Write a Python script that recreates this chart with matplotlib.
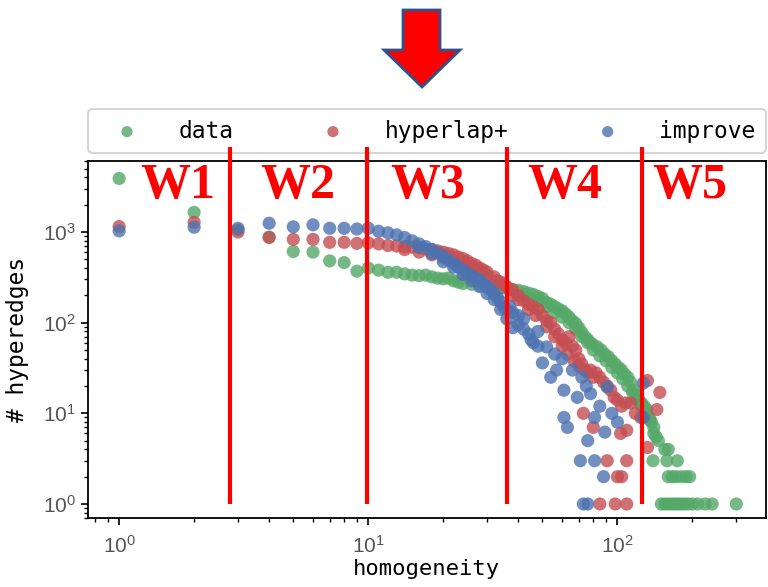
import matplotlib
matplotlib.use('Agg')
import matplotlib.pyplot as plt
from matplotlib.patches import Polygon

plt.rcParams['mathtext.fontset'] = 'custom'
plt.rcParams['mathtext.rm'] = 'Liberation Sans'
plt.rcParams['mathtext.it'] = 'Liberation Sans:italic'

# ---- data ----
data_x = [1, 2, 3, 4, 5, 6, 7, 8, 9, 10, 11, 12, 13, 14, 15, 16, 17, 18, 19, 20,
          21, 22, 23, 24, 26, 28, 30, 32, 34, 36, 38, 40, 42, 44, 46, 48, 50, 52,
          54, 56, 58, 60, 62, 64, 66, 68, 70, 72, 74, 76, 78, 80, 83, 86, 89, 92,
          95, 98, 101, 104, 107, 110, 113, 116, 119, 122, 125, 128, 131, 134, 137,
          140, 143, 146,
          44, 48, 52, 56, 60, 64, 68, 72, 76, 80, 85, 90, 95, 100, 105, 110, 115,
          120, 125, 130, 135, 140,
          139, 158, 174, 155, 160, 160, 166, 172, 180, 188, 195,
          150, 155, 160, 165, 170, 175, 180, 186, 192, 200, 210, 225, 240, 300]
data_y = [3900, 1650, 1050, 880, 610, 600, 480, 460, 370, 400, 380, 360, 360, 345,
          335, 330, 335, 320, 310, 305, 310, 290, 280, 270, 265, 258, 250, 245, 240,
          238, 232, 228, 220, 212, 205, 195, 185, 167, 160, 150, 142, 135, 125, 115,
          105, 98, 88, 78, 70, 65, 60, 57, 54, 50, 45, 42, 38, 35, 32, 30, 27, 25,
          22, 18, 16, 14, 13, 12, 11, 9, 8, 6, 5.5, 5,
          190, 175, 150, 130, 115, 100, 85, 70, 60, 50, 43, 38, 32, 28, 24, 20, 17,
          14, 12, 10, 8.5, 7,
          3, 3, 3, 4, 4, 2, 2, 2, 2, 2, 2,
          1, 1, 1, 1, 1, 1, 1, 1, 1, 1, 1, 1, 1, 1]

hyperlap_x = [1, 2, 3, 4, 5, 6, 7, 8, 9, 10, 11, 12, 13, 14, 15, 16, 17, 18, 19, 20,
              21, 22, 23, 24, 25, 26, 27, 28, 29, 30, 32, 34, 36, 38, 40, 42, 44, 46,
              48, 50, 52, 54, 56, 58, 60, 62, 64, 66, 68, 70, 72, 74, 76, 78, 80, 82,
              85, 88, 91, 94, 97, 100, 104, 108, 113, 118, 124,
              14, 16, 18, 20, 22, 24, 26, 28, 30, 33, 35, 38, 40, 44, 47, 52, 56, 60,
              63, 67, 70,
              73, 80, 103, 109, 132, 132, 144, 148, 91, 109, 100, 104, 85, 98, 109]
hyperlap_y = [1150, 1280, 1000, 870, 830, 830, 770, 770, 750, 760, 740, 710, 700, 690,
              680, 670, 650, 640, 620, 600, 580, 560, 530, 510, 480, 450, 430, 400, 380,
              360, 320, 280, 250, 230, 200, 175, 160, 150, 140, 120, 105, 100, 85, 75,
              65, 60, 70, 55, 50, 40, 35, 30, 28, 30, 25, 28, 25, 22, 20, 18, 15, 14,
              12, 13, 13, 10, 9,
              640, 600, 560, 520, 480, 440, 400, 370, 330, 290, 260, 200, 180, 140, 120,
              90, 70, 55, 45, 38, 33,
              10, 7, 6, 6.5, 4.2, 23, 11, 17, 3, 3, 2, 2, 1, 1, 1]

improve_x = [1, 2, 3, 4, 5, 6, 7, 8, 9, 10, 11, 12, 13, 14, 15, 16, 17, 18, 19, 20,
             21, 22, 23, 24, 25, 26, 27, 28, 29, 30, 31, 32, 33, 34, 35, 36, 37, 38,
             40, 42, 45, 48, 50, 52, 54, 56, 57, 60, 61, 61, 63, 66, 69, 72, 75, 76,
             78, 81, 85, 89, 91, 95, 100, 127, 127,
             16, 18, 20, 22, 24, 26, 28, 30, 32, 34, 36, 38, 40, 42, 44, 46, 48,
             71, 81, 88, 73, 76]
improve_y = [1030, 1130, 1100, 1250, 1140, 1200, 1100, 1100, 1080, 1100, 1020, 980,
             930, 870, 800, 740, 690, 640, 590, 540, 490, 450, 410, 380, 350, 330, 310,
             295, 270, 250, 230, 210, 190, 170, 150, 140, 150, 88, 120, 110, 65, 80, 36,
             54, 25, 45, 30, 40, 18, 9, 7, 30, 15, 25, 20, 5, 16.5, 9, 12, 6.2, 19.5,
             10, 8, 9, 21.5,
             680, 580, 470, 410, 340, 290, 250, 210, 180, 140, 110, 130, 95, 85, 75,
             60, 55,
             3, 3, 2, 1, 1]

series_names = ['data', 'hyperlap+', 'improve']
window_edges = [2.78, 9.9, 36, 126]
window_names = ['W1', 'W2', 'W3', 'W4', 'W5']
window_pos = [0.133, 0.309, 0.501, 0.703, 0.888]

colors = ['#55A868', '#C44E52', '#4C72B0']

fig = plt.figure(figsize=(7.68, 5.87), dpi=100)
ax = fig.add_axes([0.1146, 0.1175, 0.8825, 0.6085])

for xs, ys, name, c in zip([data_x, hyperlap_x, improve_x],
                           [data_y, hyperlap_y, improve_y],
                           series_names, colors):
    ax.scatter(xs, ys, s=90, color=c, alpha=0.8, edgecolors='none', label=name)

ax.set_xscale('log')
ax.set_yscale('log')
ax.set_xlim(0.75, 394)
ax.set_ylim(0.70, 6100)

for sp in ax.spines.values():
    sp.set_color('black')
    sp.set_linewidth(1.3)
ax.tick_params(which='major', direction='out', length=5, width=1.2, color='black',
               labelsize=15, labelcolor='#555555')
ax.tick_params(axis='x', which='major', pad=7)
ax.tick_params(which='minor', direction='out', length=3, width=1.0, color='black')
for lab in ax.get_xticklabels() + ax.get_yticklabels():
    lab.set_family('Liberation Sans')

ax.set_xlabel('homogeneity', family='DejaVu Sans Mono', fontsize=16, labelpad=2)
ax.set_ylabel('# hyperedges', family='DejaVu Sans Mono', fontsize=16.5, labelpad=10)

leg = ax.legend(loc='lower left', bbox_to_anchor=(0, 1.022, 1, 0.12), mode='expand',
                ncol=3, borderaxespad=0, markerscale=0.85, handlelength=2.5,
                handletextpad=1.0, prop={'family': 'DejaVu Sans Mono', 'size': 16.5},
                fancybox=True, frameon=True, borderpad=0.45)
leg.get_frame().set_edgecolor('#cccccc')
leg.get_frame().set_linewidth(1.5)

# window boundaries
ax.vlines(window_edges, 1, 8700, colors='#ff0000', linewidth=3, clip_on=False, zorder=6)
for name, xp in zip(window_names, window_pos):
    ax.text(xp, 0.93, name, transform=ax.transAxes, ha='center', va='center',
            color='#ff0000', fontsize=36, fontweight='bold', family='Liberation Serif',
            zorder=7)

# big arrow on top
W, H = 768.0, 587.0
arrow_px = [(403, 10), (440, 10), (440, 50), (460, 50), (422, 87), (384, 50), (403, 50)]
arrow = Polygon([(px / W, 1 - py / H) for px, py in arrow_px], closed=True,
                transform=fig.transFigure, facecolor='#ff0000', edgecolor='#2F528F',
                linewidth=2)
fig.patches.append(arrow)

fig.savefig('out.png', dpi=100)
